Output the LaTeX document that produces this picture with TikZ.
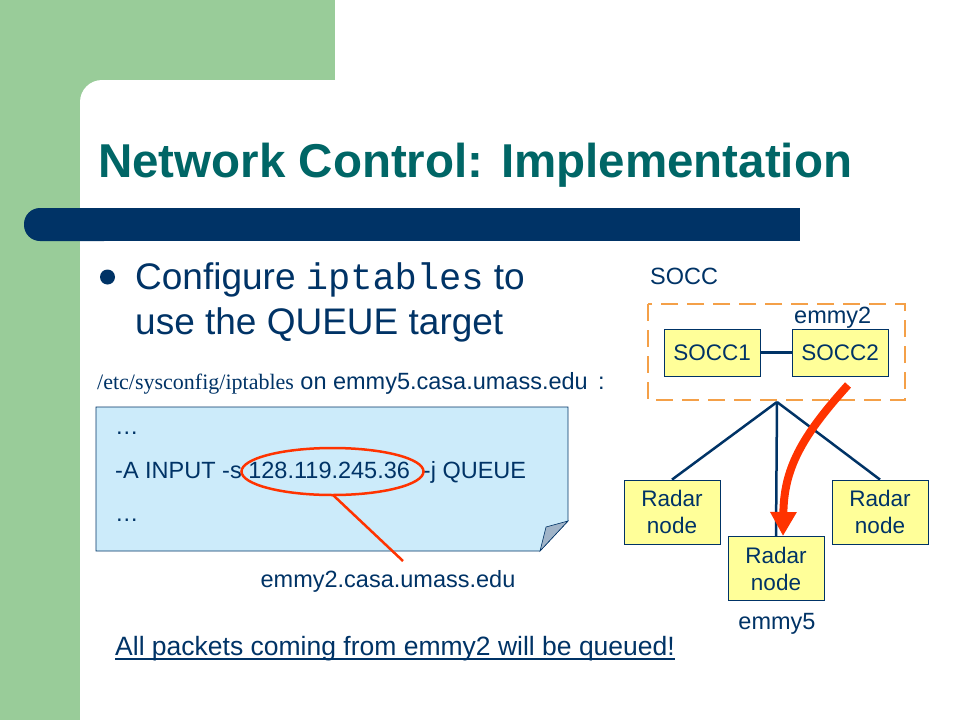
\documentclass[tikz,border=0pt]{standalone}
\usepackage{fontspec}
\setmainfont{Liberation Sans}
\newfontfamily\serifff{Liberation Serif}
\newfontfamily\monoff{Liberation Mono}
\usetikzlibrary{arrows.meta,calc}
\definecolor{sgreen}{HTML}{99CC99}
\definecolor{navy}{HTML}{003366}
\definecolor{teal}{HTML}{006666}
\definecolor{notebg}{HTML}{CCEBFA}
\definecolor{foldc}{HTML}{A0B4C8}
\definecolor{ybox}{HTML}{FFFF99}
\definecolor{orng}{HTML}{F4A048}
\definecolor{redc}{HTML}{FF3300}
\tikzset{
  ybx/.style={draw=navy, fill=ybox, line width=0.8pt, minimum width=96pt, inner sep=0pt, font=\fontsize{22.5}{27}\selectfont, text=navy, align=center},
  lnk/.style={draw=navy, line width=2.5pt},
  txt/.style={inner sep=0pt, anchor=base west, text=navy},
  mid/.style={font=\fontsize{23.5}{28}\selectfont},
}
\begin{document}
\begin{tikzpicture}[x=1pt,y=-1pt]
\useasboundingbox (0,0) rectangle (960,720);
\fill[sgreen] (0,0) rectangle (335,720);
\fill[white, rounded corners=22pt] (80,80) rectangle (1000,780);
\fill[white] (335,0) rectangle (960,80);
% blue bar
\fill[navy, rounded corners=16pt] (24,208) rectangle (120,241);
\fill[navy] (60,208) rectangle (800,241);
% title
\node[inner sep=0pt, anchor=base west, text=teal, font=\fontsize{47.5}{52}\selectfont\bfseries] (title) at (98,177) {Network Control: Implementation};
% bullet
\fill[navy] (107.5,277) circle (7.5pt);
\node[txt, font=\fontsize{37}{42}\selectfont] (b1) at (135,289) {Configure {\monoff iptables} to};
\node[txt, font=\fontsize{37}{42}\selectfont] (b2) at (135,334) {use the QUEUE target};
\node[txt, font=\fontsize{23.5}{28}\selectfont] (path) at (97,389) {{\serifff\fontsize{22}{28}\selectfont /etc/sysconfig/iptables} on emmy5.casa.umass.edu\, :};
% note
\fill[notebg, draw=navy, line width=0.6pt] (96,407) -- (568,407) -- (568,521) -- (540,551) -- (96,551) -- cycle;
\fill[foldc, draw=navy, line width=0.6pt] (568,521) -- (540,551) -- (546,527) -- cycle;
\node[txt, mid] (d1) at (115,434) {…};
\node[txt, mid] (cmd) at (115,478) {-A INPUT -s 128.119.245.36 \ -j QUEUE};
\node[txt, mid] (d2) at (115,521) {…};
\draw[redc, line width=2.5pt] (332.5,471.5) ellipse (91pt and 23.5pt);
\coordinate (ebot) at (333,495);
\node[inner sep=0pt, anchor=base, text=navy, mid] (emmy2lbl) at (388,587) {emmy2.casa.umass.edu};
\draw[redc, line width=2.5pt] (ebot) -- (403,561);
% right diagram
\node[txt, mid] (socc) at (650,284) {SOCC};
\draw[orng, line width=2.5pt, dash pattern=on 17pt off 9pt] (648,304) rectangle (905,400);
\node[txt, mid] (emmy2) at (794,323) {emmy2};
\node[ybx, minimum height=47pt] (s1) at (712,352.5) {SOCC1};
\node[ybx, minimum height=47pt] (s2) at (840,352.5) {SOCC2};
\draw[lnk] (s1) -- (s2);
\node[ybx, minimum height=64pt] (r1) at (672,512) {Radar\\node};
\node[ybx, minimum height=64pt] (r3) at (880,512) {Radar\\node};
\node[ybx, minimum height=64pt] (r2) at (776,568.5) {Radar\\node};
\coordinate (hub) at (777,402);
\draw[lnk] (hub) -- (r1.north);
\draw[lnk] (hub) -- (r2.north);
\draw[lnk] (hub) -- (r3.north);
\node[inner sep=0pt, anchor=base, text=navy, mid] (emmy5) at (777,629) {emmy5};
\coordinate (astart) at (848,385);
\draw[redc, line width=8pt, -{Triangle[length=24pt,width=25pt]}] (astart) .. controls (800,438) and (784,470) .. (783,536);
% footer
\node[txt, font=\fontsize{26.5}{30}\selectfont] (foot) at (115,655) {All packets coming from emmy2 will be queued!};
\draw[navy, line width=1.6pt] ($(foot.base west)+(0,4)$) -- ($(foot.base east)+(0,4)$);
\end{tikzpicture}
\end{document}
